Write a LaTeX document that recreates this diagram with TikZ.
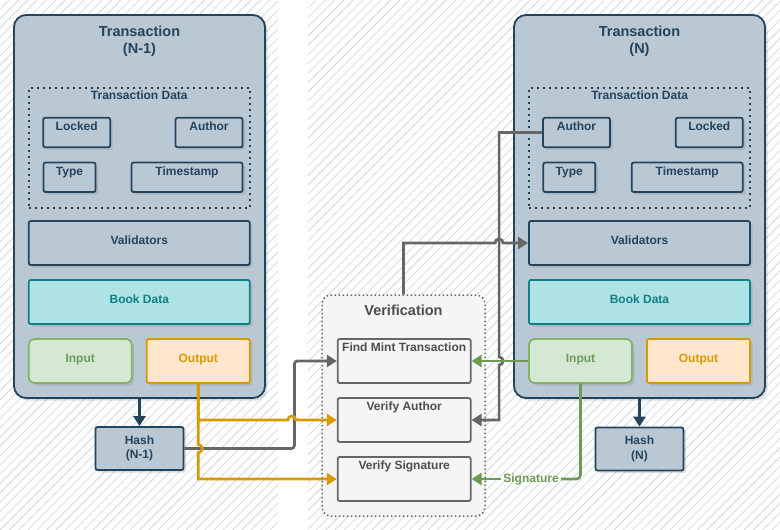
\documentclass[tikz,border=0pt]{standalone}
\usepackage{fontspec}
\setmainfont{Liberation Sans}
\usetikzlibrary{arrows.meta,calc,shadows}
\definecolor{txfill}{HTML}{BAC8D3}
\definecolor{txline}{HTML}{23445D}
\definecolor{bookfill}{HTML}{B0E3E6}
\definecolor{bookline}{HTML}{0E8088}
\definecolor{infill}{HTML}{D5E8D4}
\definecolor{inedge}{HTML}{82B366}
\definecolor{intext}{HTML}{6D9B55}
\definecolor{outfill}{HTML}{FFE6CC}
\definecolor{outedge}{HTML}{D79B00}
\definecolor{verfill}{HTML}{F5F5F5}
\definecolor{verline}{HTML}{666666}
\definecolor{vertext}{HTML}{4D4D4D}
\definecolor{hatchcol}{HTML}{C8CFD6}
\begin{document}
\begin{tikzpicture}
[x=1pt, y=-1pt, >={Triangle[length=10pt,width=12pt]},
 nodes={font=\bfseries\fontsize{12pt}{14.5pt}\selectfont, inner sep=3.5pt, line width=1.8pt, rounded corners=2pt},
 shadowed/.style={drop shadow={shadow xshift=2.5pt, shadow yshift=-2.5pt, opacity=.25}},
 tx/.style={draw=txline, fill=txfill, shadowed, rounded corners=12pt, minimum width=251pt, minimum height=383pt},
 ttl/.style={text=txline, align=center, font=\bfseries\fontsize{14.5pt}{17pt}\selectfont},
 tdata/.style={draw=txline, text=txline, line width=2pt, dash pattern=on 2pt off 4pt, rounded corners=0pt, inner sep=3pt, minimum width=221pt, text height=9pt, text depth=105pt},
 field/.style={draw=txline, fill=txfill, text=txline, shadowed, minimum width=#1, minimum height=29.5pt, text height=9pt, text depth=13pt},
 panel/.style={minimum width=#1, minimum height=44pt, text height=9pt, text depth=6pt, shadowed},
 val/.style={panel=221pt, draw=txline, fill=txfill, text=txline},
 book/.style={panel=221pt, draw=bookline, fill=bookfill, text=bookline},
 inp/.style={panel=103pt, draw=inedge, fill=infill, text=intext, rounded corners=6pt},
 outp/.style={panel=103pt, draw=outedge, fill=outfill, text=outedge},
 hashbox/.style={draw=txline, fill=txfill, text=txline, shadowed, align=center, minimum width=88pt, minimum height=43pt},
 ver/.style={draw=verline, fill=verfill, text=vertext, line width=1.5pt, dash pattern=on 1.5pt off 2.5pt, rounded corners=9pt, minimum width=163pt, inner sep=9.5pt, text height=11pt, text depth=191pt, font=\bfseries\fontsize{14.5pt}{17pt}\selectfont},
 vstep/.style={draw=verline, fill=verfill, text=vertext, minimum width=133pt, minimum height=44pt, text height=9pt, text depth=28pt},
 hashlink/.style={->, draw=txline, line width=3pt},
 grayline/.style={->, draw=verline, line width=2.7pt},
 goldline/.style={->, draw=outedge, line width=2.7pt},
 greenline/.style={->, draw=intext, line width=2.7pt}]
\useasboundingbox (0,0) rectangle (780,530);
\begin{scope}
\clip (0,0) rectangle (278,530) (308,0) rectangle (780,530);
\foreach \i in {-530,-520.7,...,780} \draw[hatchcol, line width=.6pt] (\i,530) -- ++(530,-530);
\end{scope}

\node[tx] (TxP) at (139.5,206.5) {};
\node[tx] (TxN) at (639.5,206.5) {};
\node[ttl] (TtlP) at (139.5,41) {Transaction\\(N-1)};
\node[ttl] (TtlN) at (639.5,41) {Transaction\\(N)};
\node[tdata] (DataP) at (139.3,147.6) {Transaction Data};
\node[tdata] (DataN) at (639.6,147.6) {Transaction Data};
\node[field=67pt] (LockP) at (76.7,132.5) {Locked};
\node[field=67pt] (AuthP) at (209,132.5) {Author};
\node[field=52pt] (TypeP) at (69.5,177.3) {Type};
\node[field=111pt] (TimeP) at (187,177.3) {Timestamp};
\node[field=67pt] (AuthN) at (576.5,132.5) {Author};
\node[field=67pt] (LockN) at (709.3,132.5) {Locked};
\node[field=52pt] (TypeN) at (569.3,177.3) {Type};
\node[field=111pt] (TimeN) at (687.2,177.3) {Timestamp};
\node[val] (ValP) at (139.3,243) {Validators};
\node[val] (ValN) at (639.5,243) {Validators};
\node[book] (BookP) at (139.3,302) {Book Data};
\node[book] (BookN) at (639.5,302) {Book Data};
\node[inp] (InP) at (80.2,361) {Input};
\node[outp] (OutP) at (198.3,361) {Output};
\node[inp] (InN) at (580.5,361) {Input};
\node[outp] (OutN) at (698.5,361) {Output};
\node[hashbox] (HashP) at (139.5,448.5) {Hash\\(N-1)};
\node[hashbox] (HashN) at (639.5,449) {Hash\\(N)};

\node[ver] (Ver) at (403.5,405.5) {Verification};
\node[vstep] (Mint) at (404.2,361) {Find Mint Transaction};
\node[vstep] (VA) at (404.2,420) {Verify Author};
\node[vstep] (VS) at (404.2,479) {Verify Signature};
\node[text=intext, inner sep=1.5pt] (Sig) at (531,479) {Signature};

\draw[hashlink] (TxP.south) -- (HashP.north);
\draw[hashlink] (TxN.south) -- (HashN.north);
\draw[grayline, rounded corners=3pt] (HashP.east) -- ++(110,0) |- (Mint.west);
\draw[goldline] (OutP.south) |- ($(VA.west)+(-49,0)$) arc[start angle=180, end angle=360, radius=4] -- (VA.west);
\draw[goldline] (OutP.south) -- ($(OutP.south |- HashP.east)+(0,-4)$) arc[start angle=-90, end angle=90, radius=4] |- (VS.west);
\draw[grayline] (Ver.north) |- ($(ValN.west)+(-33,0)$) arc[start angle=180, end angle=360, radius=4] -- (ValN.west);
\draw[grayline] (AuthN.west) -| ($(InN.west)+(-29,-4)$) arc[start angle=-90, end angle=90, radius=4] |- (VA.east);
\draw[greenline] (InN.west) -- (Mint.east);
\draw[greenline, -, rounded corners=4pt] (InN.south) |- (Sig.east);
\draw[greenline] (Sig.west) -- (VS.east);
\end{tikzpicture}
\end{document}
